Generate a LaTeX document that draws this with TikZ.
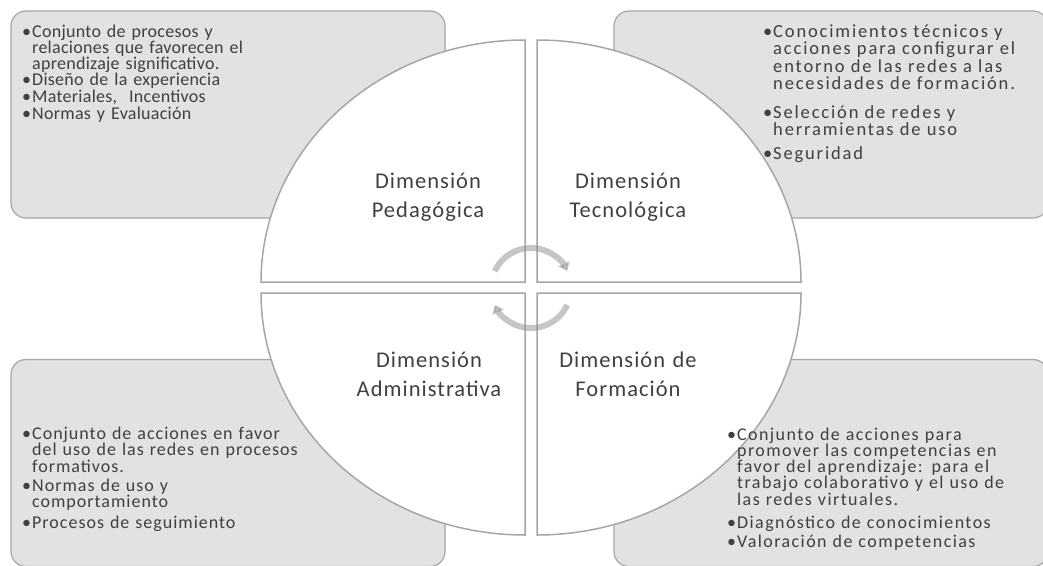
\documentclass[tikz,border=0pt]{standalone}
\usepackage{fontspec}
\setmainfont{Carlito}
\newfontfamily\fTL[LetterSpace=1.5]{Carlito}
\newfontfamily\fTR[LetterSpace=10]{Carlito}
\newfontfamily\fBL[LetterSpace=5.5]{Carlito}
\newfontfamily\fBR[LetterSpace=7.9]{Carlito}
\newfontfamily\fLab[LetterSpace=4.6]{Carlito}
\usetikzlibrary{arrows.meta}
\definecolor{boxfill}{HTML}{E2E2E2}
\definecolor{boxline}{HTML}{A6A6A6}
\definecolor{txt}{HTML}{404040}
\definecolor{cyc}{HTML}{8E8E8E}
\newcommand\bul{\makebox[10pt][l]{•}}
\newcommand\ind{\hspace*{10pt}}
\begin{document}
\begin{tikzpicture}[x=1pt,y=-1pt,
  bgbox/.style={draw=boxline, fill=boxfill, line width=1.2pt, rounded corners=15pt,
    minimum width=434pt, minimum height=207pt, inner sep=0pt},
  quad/.style={draw=boxline, fill=white, line width=1.5pt},
  lab/.style={anchor=base, inner sep=0pt, text width=220pt, align=center, text=txt,
    font={\fLab\fontsize{22.5}{29}\selectfont}},
  btext/.style={anchor=base west, inner sep=0pt, text width=400pt, align=left, text=txt},
  cycarrow/.style={draw=cyc, draw opacity=0.5, fill opacity=0.5, line width=6pt,
    -{Triangle[length=8pt,width=12pt]}}]
\useasboundingbox (0,0) rectangle (1043,565);

% background boxes
\node[bgbox] (tlbox) at (228,114.5) {};
\node[bgbox] (trbox) at (831,114.5) {};
\node[bgbox] (blbox) at (228,463) {};
\node[bgbox] (brbox) at (831,463) {};

% quadrants of the ellipse
\draw[quad] (525,282) -- (261,282) arc[start angle=180, end angle=270, x radius=264, y radius=242] -- cycle;
\draw[quad] (537,282) -- (537,40) arc[start angle=270, end angle=360, x radius=264, y radius=242] -- cycle;
\draw[quad] (537,293) -- (801,293) arc[start angle=0, end angle=90, x radius=264, y radius=242] -- cycle;
\draw[quad] (525,293) -- (525,535) arc[start angle=90, end angle=180, x radius=264, y radius=242] -- cycle;

% cycle arrows
\coordinate (cc) at (531,288);
\draw[cycarrow] ([shift={(-155:40)}]cc) arc[start angle=-155, end angle=-25, radius=40];
\draw[cycarrow] ([shift={(25:40)}]cc) arc[start angle=25, end angle=155, radius=40];

% quadrant labels
\node[lab] (labTL) at (428,188) {Dimensión\\Pedagógica};
\node[lab] (labTR) at (628,188) {Dimensión\\Tecnológica};
\node[lab] (labBL) at (429,367) {Dimensión\\Administrativa};
\node[lab] (labBR) at (628,367) {Dimensión de\\Formación};

% bullet texts
\node[btext, font={\fTL\fontsize{18}{16}\selectfont\lineskiplimit=-100pt}] (txtTL) at (22,37) {%
\bul Conjunto de procesos y\\
\ind relaciones que favorecen el\\
\ind aprendizaje significativo.\\[0.8pt]
\bul Diseño de la experiencia\\[0.8pt]
\bul Materiales,\ \ Incentivos\\[0.8pt]
\bul Normas y Evaluación};

\node[btext, font={\fTR\fontsize{18.5}{17.5}\selectfont\lineskiplimit=-100pt}] (txtTR) at (763,37) {%
\bul Conocimientos técnicos y\\
\ind acciones para configurar el\\
\ind entorno de las redes a las\\
\ind necesidades de formación.\\[11pt]
\bul Selección de redes y\\
\ind herramientas de uso\\[6pt]
\bul Seguridad};

\node[btext, font={\fBL\fontsize{18}{16.5}\selectfont\lineskiplimit=-100pt}] (txtBL) at (22,439) {%
\bul Conjunto de acciones en favor\\
\ind del uso de las redes en procesos\\
\ind formativos.\\[2.5pt]
\bul Normas de uso y\\
\ind comportamiento\\[4.5pt]
\bul Procesos de seguimiento};

\node[btext, font={\fBR\fontsize{18}{16.3}\selectfont\lineskiplimit=-100pt}] (txtBR) at (727,440) {%
\bul Conjunto de acciones para\\
\ind promover las competencias en\\
\ind favor del aprendizaje: para el\\
\ind trabajo colaborativo y el uso de\\
\ind las redes virtuales.\\[7pt]
\bul Diagnóstico de conocimientos\\[3pt]
\bul Valoración de competencias};
\end{tikzpicture}
\end{document}
